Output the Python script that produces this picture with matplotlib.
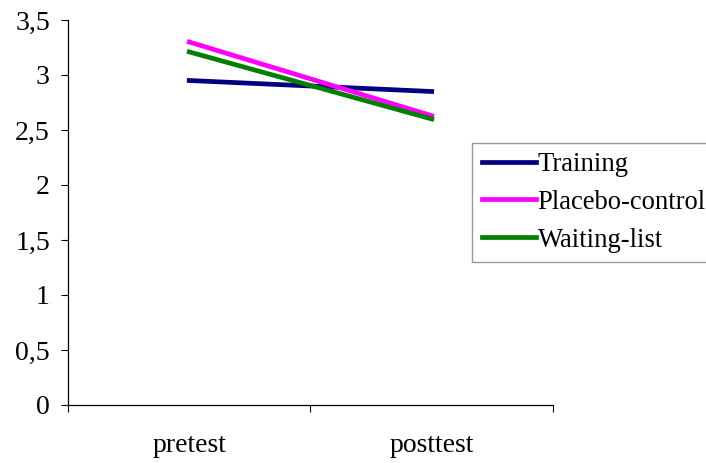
import matplotlib.pyplot as plt
from matplotlib.ticker import FixedLocator, FuncFormatter

categories = ["pretest", "posttest"]
training = [2.95, 2.85]
placebo = [3.30, 2.63]
waiting = [3.21, 2.60]

plt.rcParams['font.family'] = ['Liberation Serif', 'DejaVu Serif']

fig = plt.figure(figsize=(7.06, 4.63), dpi=100)
ax = fig.add_axes([0.0963, 0.1253, 0.687, 0.8315])

x = [0.5, 1.5]
ax.plot(x, training, color="#000080", lw=3.4, label="Training")
ax.plot(x, placebo, color="#FF00FF", lw=3.4, label="Placebo-control")
ax.plot(x, waiting, color="#008000", lw=3.4, label="Waiting-list")

ax.set_xlim(0, 2)
ax.set_ylim(0, 3.5)
ax.xaxis.set_major_locator(FixedLocator([0, 1, 2]))
ax.xaxis.set_minor_locator(FixedLocator(x))
ax.set_xticklabels([], minor=False)
ax.set_xticklabels(categories, minor=True)
ax.tick_params(axis="x", which="minor", length=0, pad=20, labelsize=20)
ax.tick_params(axis="x", which="major", length=5, direction="out")
ax.set_yticks([0, 0.5, 1, 1.5, 2, 2.5, 3, 3.5])
ax.yaxis.set_major_formatter(FuncFormatter(lambda v, p: f"{v:g}".replace(".", ",")))
ax.tick_params(axis="y", length=5, direction="out", labelsize=20, pad=8)

for s in ["top", "right"]:
    ax.spines[s].set_visible(False)
for s in ["left", "bottom"]:
    ax.spines[s].set_linewidth(0.9)

leg = fig.legend(loc="upper left", bbox_to_anchor=(0.669, 0.692), fontsize=19.2,
                 frameon=True, fancybox=False, edgecolor="#808080",
                 handlelength=2.05, handletextpad=0.05, labelspacing=0.48,
                 borderpad=0.35, borderaxespad=0)
leg.get_frame().set_linewidth(1.0)

fig.savefig("out.png", dpi=100)
